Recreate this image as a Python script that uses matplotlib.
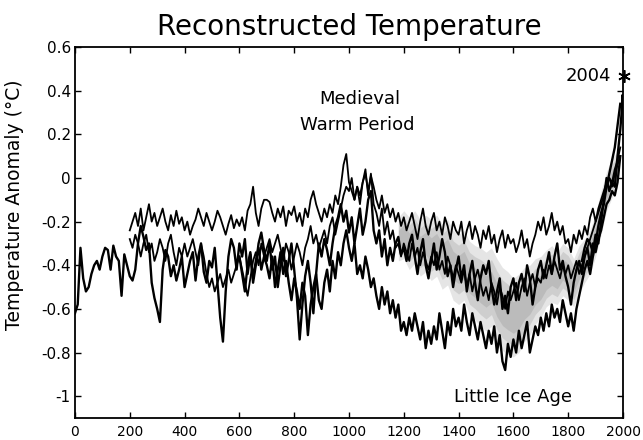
import numpy as np
import matplotlib
matplotlib.use("Agg")
import matplotlib.pyplot as plt

# ---------------- data ----------------
years_a = list(range(0, 2000, 10))
series_a = [
    -0.62, -0.58, -0.32, -0.46, -0.52, -0.50, -0.44, -0.40, -0.38, -0.42,
    -0.36, -0.32, -0.33, -0.42, -0.31, -0.36, -0.38, -0.54, -0.35, -0.40,
    -0.45, -0.47, -0.42, -0.30, -0.22, -0.27, -0.33, -0.30, -0.48, -0.55,
    -0.60, -0.66, -0.42, -0.33, -0.36, -0.45, -0.40, -0.47, -0.42, -0.36,
    -0.50, -0.44, -0.38, -0.34, -0.47, -0.36, -0.30, -0.43, -0.48, -0.38,
    -0.41, -0.32, -0.48, -0.64, -0.75, -0.52, -0.36, -0.28, -0.32, -0.42,
    -0.30, -0.36, -0.28, -0.44, -0.35, -0.48, -0.40, -0.30, -0.25, -0.33,
    -0.38, -0.30, -0.42, -0.36, -0.50, -0.40, -0.32, -0.45, -0.38, -0.30,
    -0.42, -0.55, -0.74, -0.58, -0.45, -0.38, -0.48, -0.62, -0.44, -0.30,
    -0.36, -0.28, -0.33, -0.40, -0.30, -0.22, -0.18, -0.12, -0.20, -0.15,
    -0.25, -0.18, -0.30, -0.22, -0.14, -0.26, -0.20, -0.10, -0.06, -0.24,
    -0.30, -0.24, -0.36, -0.28, -0.40, -0.32, -0.38, -0.30, -0.27, -0.35,
    -0.32, -0.38, -0.30, -0.26, -0.36, -0.44, -0.34, -0.28, -0.40, -0.46,
    -0.38, -0.30, -0.42, -0.36, -0.28, -0.34, -0.45, -0.40, -0.50, -0.42,
    -0.36, -0.46, -0.40, -0.52, -0.44, -0.38, -0.48, -0.56, -0.46, -0.40,
    -0.44, -0.38, -0.50, -0.58, -0.52, -0.46, -0.60, -0.54, -0.62, -0.50,
    -0.46, -0.56, -0.48, -0.44, -0.52, -0.40, -0.46, -0.58, -0.50, -0.42,
    -0.38, -0.46, -0.40, -0.34, -0.44, -0.36, -0.30, -0.42, -0.38, -0.45,
    -0.50, -0.58, -0.48, -0.42, -0.38, -0.44, -0.36, -0.32, -0.40, -0.30,
    -0.34, -0.28, -0.24, -0.18, -0.12, -0.10, -0.06, -0.08, -0.02, 0.10,
]

years_b = list(range(200, 2000, 10))
series_b = [
    -0.24, -0.20, -0.16, -0.22, -0.14, -0.24, -0.18, -0.12, -0.20, -0.16,
    -0.22, -0.18, -0.14, -0.20, -0.24, -0.17, -0.22, -0.15, -0.21, -0.18,
    -0.24, -0.20, -0.26, -0.22, -0.19, -0.14, -0.18, -0.22, -0.16, -0.20,
    -0.24, -0.20, -0.15, -0.18, -0.22, -0.26, -0.21, -0.17, -0.23, -0.19,
    -0.22, -0.18, -0.24, -0.15, -0.12, -0.04, -0.16, -0.22, -0.14, -0.10,
    -0.10, -0.11, -0.16, -0.20, -0.14, -0.18, -0.13, -0.22, -0.15, -0.17,
    -0.13, -0.20, -0.16, -0.22, -0.14, -0.18, -0.10, -0.06, -0.12, -0.16,
    -0.20, -0.14, -0.18, -0.12, -0.16, -0.08, -0.12, -0.04, 0.06, 0.11,
    -0.02, -0.06, -0.10, -0.04, -0.08, -0.02, 0.02, -0.06, 0.01, -0.04,
    -0.10, -0.14, -0.08, -0.16, -0.12, -0.18, -0.14, -0.20, -0.16, -0.22,
    -0.18, -0.24, -0.20, -0.16, -0.22, -0.28, -0.20, -0.14, -0.22, -0.26,
    -0.20, -0.16, -0.24, -0.20, -0.26, -0.18, -0.22, -0.28, -0.20, -0.24,
    -0.26, -0.20, -0.30, -0.24, -0.20, -0.28, -0.22, -0.26, -0.32, -0.24,
    -0.28, -0.22, -0.30, -0.26, -0.34, -0.28, -0.24, -0.32, -0.26, -0.30,
    -0.28, -0.34, -0.30, -0.24, -0.32, -0.28, -0.36, -0.30, -0.26, -0.20,
    -0.24, -0.18, -0.26, -0.22, -0.16, -0.24, -0.20, -0.26, -0.22, -0.30,
    -0.28, -0.34, -0.26, -0.30, -0.24, -0.28, -0.22, -0.26, -0.18, -0.14,
    -0.20, -0.14, -0.10, -0.06, -0.02, 0.00, -0.04, 0.02, 0.06, 0.10,
]

years_c = list(range(200, 2000, 10))
series_c = [
    -0.28, -0.32, -0.26, -0.30, -0.36, -0.30, -0.26, -0.34, -0.30, -0.38,
    -0.34, -0.28, -0.32, -0.38, -0.30, -0.26, -0.34, -0.40, -0.32, -0.36,
    -0.30, -0.36, -0.32, -0.28, -0.34, -0.40, -0.30, -0.36, -0.44, -0.50,
    -0.46, -0.52, -0.48, -0.44, -0.50, -0.46, -0.42, -0.48, -0.44, -0.40,
    -0.36, -0.42, -0.48, -0.54, -0.46, -0.38, -0.34, -0.40, -0.30, -0.36,
    -0.32, -0.28, -0.34, -0.30, -0.26, -0.32, -0.38, -0.30, -0.34, -0.42,
    -0.36, -0.30, -0.34, -0.40, -0.32, -0.28, -0.22, -0.30, -0.26, -0.32,
    -0.28, -0.24, -0.30, -0.22, -0.18, -0.26, -0.20, -0.14, -0.08, -0.04,
    -0.06, 0.00, -0.10, -0.04, -0.12, -0.02, 0.04, -0.08, 0.02, -0.12,
    -0.16, -0.22, -0.14, -0.26, -0.20, -0.28, -0.24, -0.32, -0.30, -0.36,
    -0.30, -0.34, -0.38, -0.30, -0.36, -0.32, -0.40, -0.34, -0.38, -0.42,
    -0.36, -0.40, -0.34, -0.42, -0.38, -0.44, -0.36, -0.40, -0.46, -0.40,
    -0.44, -0.48, -0.42, -0.50, -0.44, -0.52, -0.46, -0.42, -0.48, -0.54,
    -0.50, -0.56, -0.48, -0.52, -0.58, -0.50, -0.54, -0.60, -0.52, -0.56,
    -0.52, -0.48, -0.56, -0.50, -0.46, -0.54, -0.48, -0.44, -0.50, -0.46,
    -0.48, -0.42, -0.46, -0.40, -0.44, -0.38, -0.42, -0.46, -0.40, -0.44,
    -0.40, -0.46, -0.42, -0.38, -0.44, -0.40, -0.36, -0.32, -0.28, -0.24,
    -0.20, -0.16, -0.12, -0.08, -0.04, 0.00, -0.02, 0.04, 0.08, 0.14,
]

years_d = list(range(600, 2000, 10))
series_d = [
    -0.36, -0.44, -0.52, -0.40, -0.34, -0.46, -0.38, -0.32, -0.42, -0.36,
    -0.40, -0.46, -0.36, -0.50, -0.42, -0.34, -0.44, -0.38, -0.48, -0.56,
    -0.46, -0.52, -0.60, -0.48, -0.54, -0.72, -0.58, -0.50, -0.44, -0.56,
    -0.60, -0.48, -0.42, -0.52, -0.38, -0.46, -0.34, -0.40, -0.30, -0.24,
    -0.32, -0.38, -0.30, -0.44, -0.40, -0.46, -0.36, -0.42, -0.50, -0.46,
    -0.54, -0.60, -0.50, -0.58, -0.52, -0.62, -0.56, -0.64, -0.58, -0.70,
    -0.66, -0.72, -0.64, -0.70, -0.62, -0.68, -0.74, -0.66, -0.78, -0.70,
    -0.76, -0.68, -0.74, -0.62, -0.70, -0.78, -0.66, -0.72, -0.60, -0.68,
    -0.64, -0.70, -0.58, -0.66, -0.72, -0.62, -0.68, -0.74, -0.66, -0.72,
    -0.78, -0.70, -0.76, -0.68, -0.80, -0.72, -0.84, -0.88, -0.76, -0.82,
    -0.74, -0.80, -0.70, -0.78, -0.72, -0.66, -0.80, -0.74, -0.68, -0.72,
    -0.64, -0.70, -0.62, -0.68, -0.58, -0.64, -0.60, -0.66, -0.56, -0.62,
    -0.68, -0.62, -0.70, -0.60, -0.54, -0.48, -0.42, -0.38, -0.44, -0.36,
    -0.30, -0.22, -0.16, -0.12, -0.04, 0.02, 0.08, 0.14, 0.24, 0.34,
]

years_inst = [1850, 1860, 1870, 1880, 1890, 1900, 1910, 1920, 1930, 1940,
              1950, 1960, 1970, 1980, 1985, 1990, 1995, 1998, 2000]
series_inst = [-0.38, -0.32, -0.28, -0.30, -0.34, -0.26, -0.30, -0.20, -0.10, 0.00,
               -0.06, -0.02, -0.04, 0.10, 0.16, 0.22, 0.30, 0.38, 0.34]

years_band = list(range(1180, 2000, 20))
band_center = [-0.28, -0.26, -0.30, -0.27, -0.32, -0.30, -0.33, -0.31, -0.36, -0.34,
               -0.40, -0.42, -0.40, -0.46, -0.48, -0.50, -0.52, -0.50, -0.56, -0.60,
               -0.62, -0.64, -0.62, -0.58, -0.56, -0.52, -0.50, -0.46, -0.44, -0.46,
               -0.42, -0.44, -0.48, -0.42, -0.38, -0.34, -0.26, -0.16, -0.06, 0.00,
               0.04]
band_half = [0.10, 0.11, 0.12, 0.12, 0.13, 0.13, 0.14, 0.14, 0.15, 0.15,
             0.16, 0.16, 0.16, 0.17, 0.17, 0.18, 0.18, 0.18, 0.19, 0.19,
             0.19, 0.18, 0.18, 0.17, 0.16, 0.15, 0.14, 0.13, 0.13, 0.12,
             0.12, 0.12, 0.11, 0.11, 0.10, 0.10, 0.10, 0.10, 0.09, 0.09,
             0.08]

marker_year = [2004]
marker_value = [0.467]

x_ticks = [0, 200, 400, 600, 800, 1000, 1200, 1400, 1600, 1800, 2000]
y_ticks = [-1, -0.8, -0.6, -0.4, -0.2, 0, 0.2, 0.4, 0.6]
y_tick_labels = ['-1', '-0.8', '-0.6', '-0.4', '-0.2', '0', '0.2', '0.4', '0.6']

# ---------------- figure ----------------
plt.rcParams['font.family'] = ['DejaVu Sans']
fig = plt.figure(figsize=(6.43, 4.40), dpi=100)
ax = fig.add_axes([0.1166, 0.05, 0.8523, 0.843])

yb = np.array(years_band)
bc = np.array(band_center)
bh = np.array(band_half)
for k, a in [(1.0, 0.22), (0.7, 0.25), (0.4, 0.28)]:
    ax.fill_between(yb, bc - k * bh, bc + k * bh, color='0.55', alpha=a, lw=0)

ax.plot(years_b, series_b, color='black', lw=1.3)
ax.plot(years_c, series_c, color='black', lw=1.3)
ax.plot(years_a, series_a, color='black', lw=1.7)
ax.plot(years_d, series_d, color='black', lw=1.7)
ax.plot(years_inst, series_inst, color='black', lw=1.7)
ax.plot(marker_year, marker_value, marker=(6, 2, 0), color='black', ms=9, mew=1.2,
        ls='none', clip_on=False)

ax.set_xlim(0, 2000)
ax.set_ylim(-1.1, 0.6)
ax.set_xticks(x_ticks)
ax.set_yticks(y_ticks)
ax.set_yticklabels(y_tick_labels)
ax.tick_params(direction='in', top=True, right=True, length=4, width=1,
               labelsize=11)
ax.tick_params(axis='x', pad=5, labelsize=10)
ax.tick_params(axis='y', pad=3)
for s in ax.spines.values():
    s.set_linewidth(1.3)

ax.set_ylabel('Temperature Anomaly (°C)', fontsize=13.5)
ax.yaxis.set_label_coords(-0.093, 0.575)
ax.set_title('Reconstructed Temperature', fontsize=20, pad=9)

ax.text(1040, 0.36, 'Medieval', ha='center', va='center', fontsize=13)
ax.text(1030, 0.245, 'Warm Period', ha='center', va='center', fontsize=13)
ax.text(1600, -1.005, 'Little Ice Age', ha='center', va='center', fontsize=13)
ax.text(1955, 0.467, '2004', ha='right', va='center', fontsize=13)

fig.savefig('out.png', dpi=100)
